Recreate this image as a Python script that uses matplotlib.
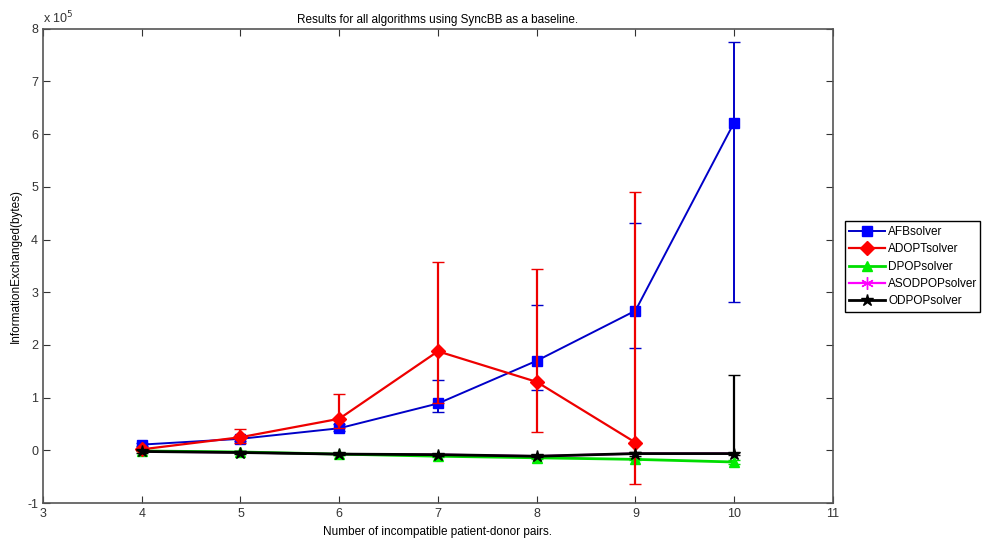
import numpy as np
import matplotlib
matplotlib.use("Agg")
import matplotlib.pyplot as plt
from matplotlib.lines import Line2D

plt.rcParams["font.family"] = ["Liberation Sans", "DejaVu Sans"]
plt.rcParams["axes.unicode_minus"] = False

# values in units of 1e5 bytes
pairs = [4, 5, 6, 7, 8, 9, 10]

afb = [0.11, 0.22, 0.42, 0.89, 1.70, 2.65, 6.22]
afb_lo = [0.08, 0.17, 0.36, 0.73, 1.15, 1.95, 2.82]
afb_hi = [0.14, 0.27, 0.50, 1.33, 2.75, 4.32, 7.75]

adopt_x = [4, 5, 6, 7, 8, 9]
adopt = [0.02, 0.25, 0.60, 1.88, 1.30, 0.15]
adopt_lo = [0.00, 0.15, 0.42, 0.89, 0.35, -0.63]
adopt_hi = [0.05, 0.40, 1.07, 3.58, 3.45, 4.90]

dpop = [-0.01, -0.03, -0.07, -0.11, -0.14, -0.17, -0.22]
dpop_lo = [-0.02, -0.04, -0.09, -0.13, -0.16, -0.19, -0.25]
dpop_hi = [0.00, -0.02, -0.05, -0.09, -0.12, -0.15, -0.19]

asodpop = [-0.02, -0.04, -0.07, -0.08, -0.11, -0.06, -0.06]

odpop = [-0.02, -0.04, -0.07, -0.08, -0.11, -0.06, -0.06]
odpop_lo = [-0.04, -0.06, -0.09, -0.10, -0.13, -0.10, -0.08]
odpop_hi = [0.00, -0.02, -0.05, -0.06, -0.09, -0.03, 1.43]

names = ["AFBsolver", "ADOPTsolver", "DPOPsolver", "ASODPOPsolver", "ODPOPsolver"]

# (line colour, marker, marker colour, marker size, line width)
styles = [
    ("#0000c8", "s", "#0000ff", 7, 1.4),
    ("#ee0000", "D", "#ff0000", 7, 1.6),
    ("#00dd00", "^", "#00ee00", 7, 2.0),
    ("#ff00ff", (6, 2, 0), "#ff00ff", 9, 1.6),
    ("black", "*", "black", 9, 2.0),
]


def err(vals, lo, hi):
    v = np.array(vals)
    return [v - np.array(lo), np.array(hi) - v]


fig = plt.figure(figsize=(9.88, 5.41), dpi=100)
ax = fig.add_axes([0.0435, 0.070, 0.7995, 0.877])

series = [
    (pairs, afb, err(afb, afb_lo, afb_hi), 3),
    (adopt_x, adopt, err(adopt, adopt_lo, adopt_hi), 4),
    (pairs, dpop, err(dpop, dpop_lo, dpop_hi), 2),
    (pairs, asodpop, None, 1),
    (pairs, odpop, err(odpop, odpop_lo, odpop_hi), 5),
]
for i, ((x, y, e, z), (c, m, mc, ms, lw)) in enumerate(zip(series, styles)):
    # ASODPOP sits right under ODPOP in the original, keep its marks small
    if i == 3:
        ms = 5
    ax.errorbar(x, y, yerr=e, color=c, lw=lw, marker=m, ms=ms, mfc=mc, mec=mc,
                capsize=4, elinewidth=min(lw, 1.6), zorder=z)

ax.set_xlim(3, 11)
ax.set_ylim(-1, 8)
ax.set_xticks(range(3, 12))
ax.set_yticks(range(-1, 9))
ax.tick_params(direction="in", top=True, right=True, length=5, labelsize=9,
               color="#333333", labelcolor="#333333")
for s in ax.spines.values():
    s.set_color("#555555")
    s.set_linewidth(1.2)

ax.set_title("Results for all algorithms using SyncBB as a baseline.", fontsize=8.5, pad=4)
ax.set_xlabel("Number of incompatible patient-donor pairs.", fontsize=8.5, labelpad=4)
ax.set_ylabel("InformationExchanged(bytes)", fontsize=8.5, labelpad=4)
ax.text(0.0, 1.005, "x 10$^5$", transform=ax.transAxes, fontsize=9, color="#333333",
        va="bottom", ha="left")

handles = [Line2D([], [], color=c, lw=lw, marker=m, ms=ms, mfc=mc, mec=mc)
           for c, m, mc, ms, lw in styles]
fig.legend(handles, names, loc="lower left", bbox_to_anchor=(0.855, 0.423, 0.137, 0.166),
           mode="expand", fontsize=8.5, fancybox=False, edgecolor="black", framealpha=1,
           borderaxespad=0, handlelength=3, labelspacing=0.45, handletextpad=0.3,
           borderpad=0.4)

fig.savefig("out.png", dpi=100)
